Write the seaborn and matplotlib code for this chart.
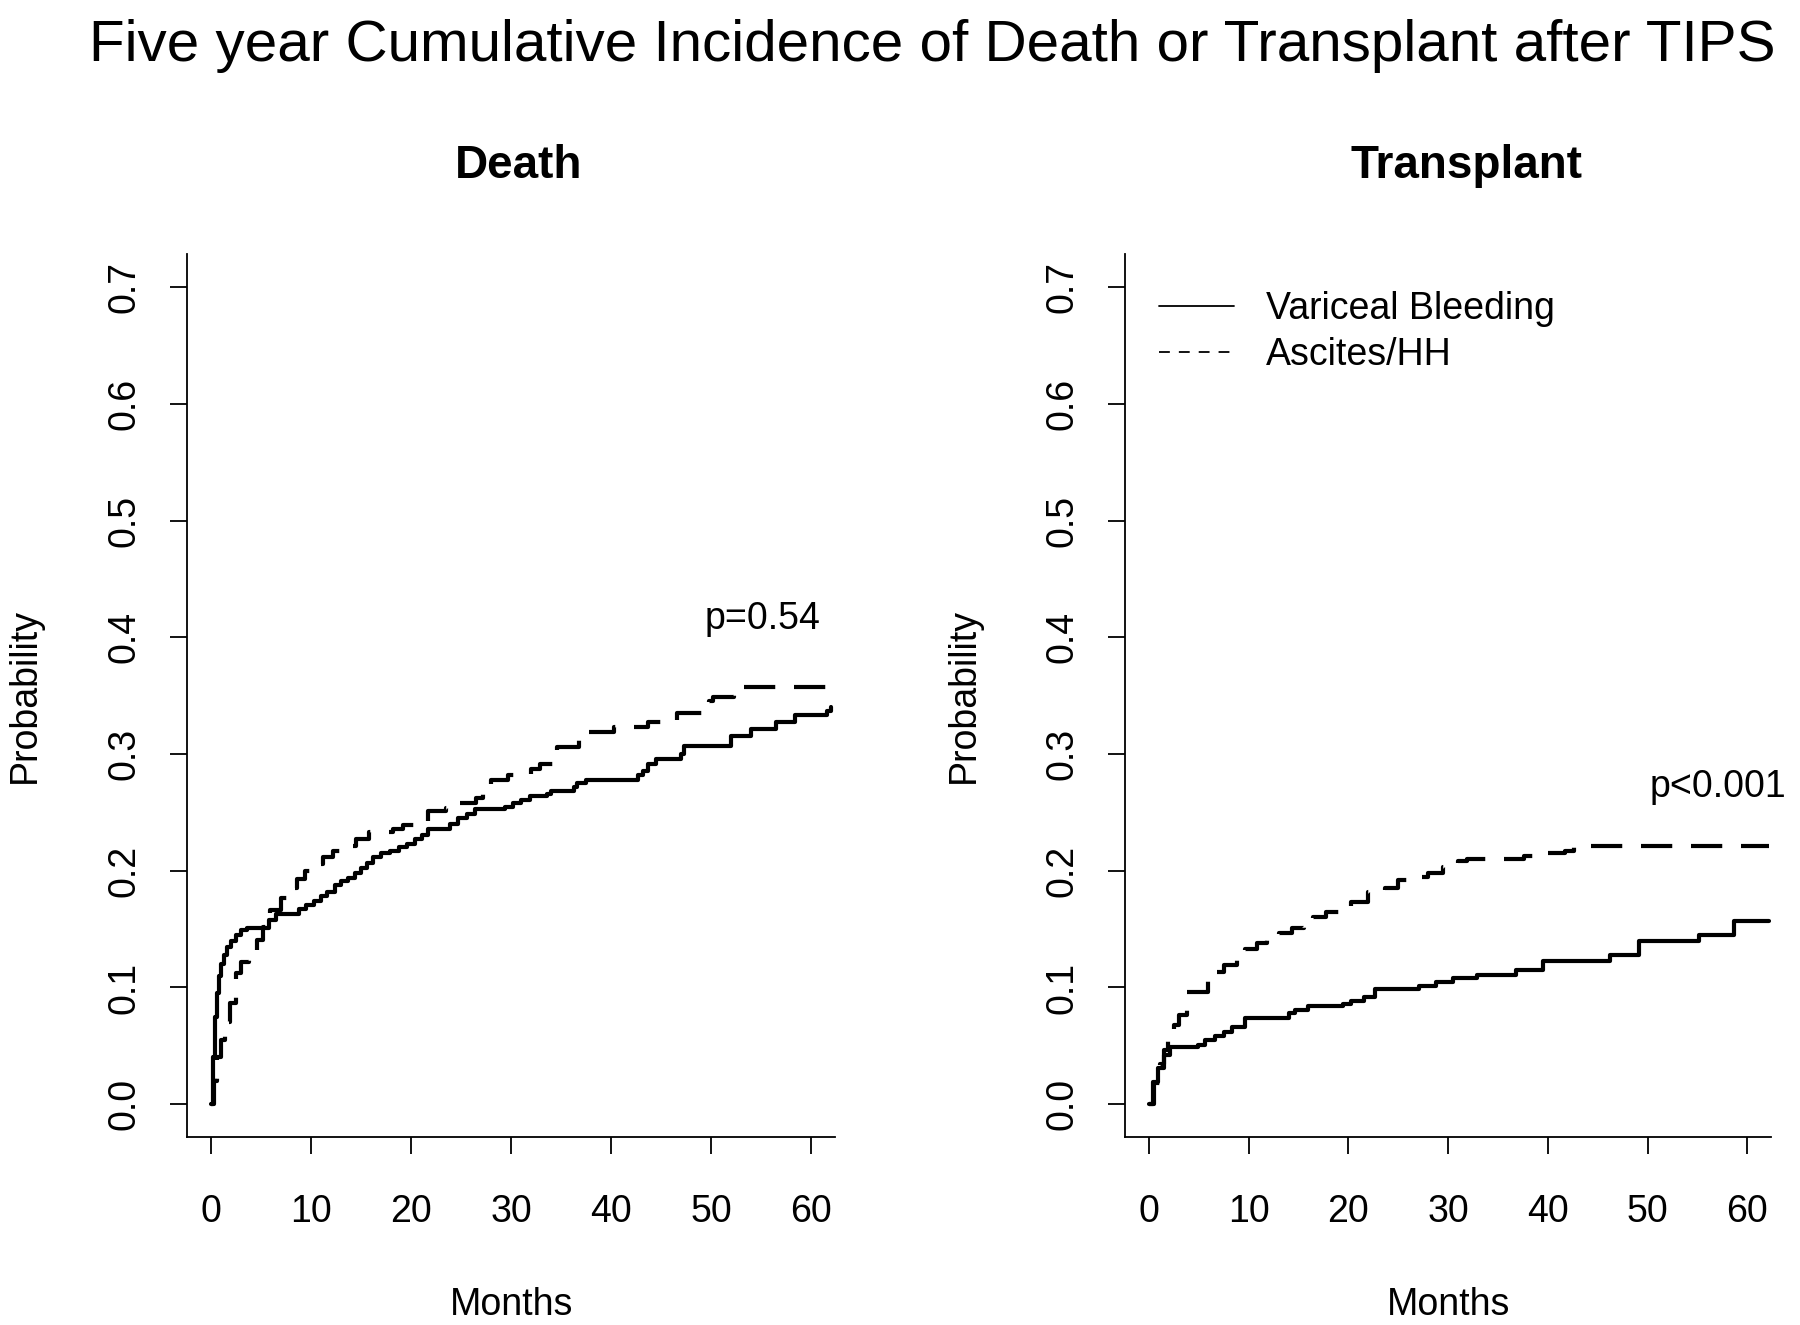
import matplotlib
matplotlib.use("Agg")
import matplotlib.pyplot as plt
from matplotlib.lines import Line2D
import seaborn as sns

# cumulative incidence (step functions)
death_vb_months = [0, 0.2, 0.4, 0.6, 0.8, 1.0, 1.3, 1.6, 2.0, 2.5, 3.0, 3.6, 5.8, 6.5, 8.8,
                   9.5, 10.3, 11.0, 11.6, 12.4, 13.0, 13.7, 14.4, 15.0, 15.6, 16.2, 17.0, 17.9,
                   18.8, 19.6, 20.4, 21.1, 21.7, 23.9, 24.7, 25.6, 26.4, 29.4, 30.2, 31.0, 31.9,
                   33.6, 34.0, 36.3, 36.6, 37.5, 42.7, 43.2, 43.7, 44.5, 47.0, 47.3, 52.0, 54.0,
                   56.5, 58.4, 61.6, 62.0]
death_vb_prob = [0, 0.04, 0.075, 0.095, 0.11, 0.12, 0.128, 0.135, 0.14, 0.145, 0.149, 0.151,
                 0.158, 0.163, 0.167, 0.171, 0.174, 0.178, 0.182, 0.188, 0.191, 0.194, 0.198,
                 0.202, 0.207, 0.212, 0.215, 0.217, 0.220, 0.223, 0.227, 0.231, 0.236, 0.240,
                 0.245, 0.249, 0.253, 0.255, 0.258, 0.261, 0.264, 0.266, 0.268, 0.272, 0.275,
                 0.278, 0.282, 0.285, 0.291, 0.296, 0.300, 0.307, 0.315, 0.321, 0.327, 0.333,
                 0.337, 0.340]

death_ah_months = [0, 0.3, 0.6, 1.0, 1.4, 1.9, 2.5, 3.0, 3.8, 4.6, 5.2, 5.9, 7.0, 7.8, 8.6,
                   9.4, 10.3, 11.2, 12.2, 13.3, 14.5, 15.8, 18.2, 19.2, 20.5, 21.7, 23.5, 24.7,
                   26.5, 27.2, 28.0, 29.7, 32.0, 32.9, 34.6, 36.8, 37.8, 40.3, 43.7, 46.6, 49.8,
                   50.2, 52.3, 62.0]
death_ah_prob = [0, 0.02, 0.04, 0.055, 0.07, 0.087, 0.112, 0.122, 0.131, 0.141, 0.152, 0.166,
                 0.177, 0.185, 0.193, 0.2, 0.206, 0.212, 0.217, 0.221, 0.227, 0.233, 0.236,
                 0.239, 0.242, 0.251, 0.254, 0.258, 0.262, 0.267, 0.278, 0.282, 0.287, 0.291,
                 0.306, 0.312, 0.319, 0.323, 0.327, 0.335, 0.345, 0.349, 0.357, 0.357]

tx_vb_months = [0, 0.4, 0.9, 1.5, 2.1, 4.9, 5.6, 6.6, 7.5, 8.3, 9.6, 14.0, 14.6, 16.0, 19.5,
                20.3, 21.6, 22.7, 27.1, 28.8, 30.5, 32.9, 36.8, 39.5, 46.2, 49.1, 55.2, 58.7, 62.2]
tx_vb_prob = [0, 0.019, 0.031, 0.042, 0.049, 0.051, 0.055, 0.058, 0.062, 0.066, 0.074, 0.078,
              0.081, 0.084, 0.086, 0.088, 0.092, 0.099, 0.101, 0.105, 0.108, 0.111, 0.115,
              0.123, 0.128, 0.140, 0.145, 0.157, 0.157]

tx_ah_months = [0, 0.5, 1.1, 1.5, 1.9, 2.5, 3.0, 3.8, 5.9, 6.6, 7.5, 8.8, 9.6, 10.8, 11.8,
                13.0, 14.3, 15.5, 16.5, 17.8, 19.5, 20.3, 22.0, 23.7, 25.0, 26.4, 28.0, 29.5,
                31.0, 31.9, 37.6, 40.0, 41.7, 42.6, 62.2]
tx_ah_prob = [0, 0.018, 0.034, 0.046, 0.059, 0.068, 0.076, 0.096, 0.106, 0.113, 0.119, 0.128,
              0.133, 0.138, 0.142, 0.147, 0.151, 0.156, 0.160, 0.165, 0.168, 0.173, 0.182,
              0.185, 0.192, 0.195, 0.198, 0.203, 0.208, 0.210, 0.213, 0.215, 0.217, 0.221, 0.221]

groups = ['Variceal Bleeding', 'Ascites/HH']
panels = ['Death', 'Transplant']
pvals = ['p=0.54', 'p<0.001']
pval_pos = [(55.1, 0.416), (57.1, 0.272)]
xticks = [0, 10, 20, 30, 40, 50, 60]
yticks = [0.0, 0.1, 0.2, 0.3, 0.4, 0.5, 0.6, 0.7]

sns.set_style("ticks")
plt.rcParams['font.family'] = ['Liberation Sans', 'DejaVu Sans']
plt.rcParams.update({'text.color': 'black', 'axes.labelcolor': 'black',
                     'xtick.color': 'black', 'ytick.color': 'black'})

FS = 27
DASH = (0, (7.5, 4.5))

fig = plt.figure(figsize=(18, 13.25), dpi=100)
ax1 = fig.add_axes([0.104, 0.142, 0.36, 0.666])
ax2 = fig.add_axes([0.625, 0.142, 0.359, 0.666])

series = [
    (ax1, death_vb_months, death_vb_prob, death_ah_months, death_ah_prob),
    (ax2, tx_vb_months, tx_vb_prob, tx_ah_months, tx_ah_prob),
]
title_x = [0.512, 0.528]

for i, (ax, m1, p1, m2, p2) in enumerate(series):
    sns.lineplot(x=m1, y=p1, ax=ax, color='black', lw=3, drawstyle='steps-post',
                 estimator=None, sort=False)
    sns.lineplot(x=m2, y=p2, ax=ax, color='black', lw=3, drawstyle='steps-post',
                 estimator=None, sort=False, linestyle=DASH)
    ax.set_xlim(-2.4, 62.4)
    ax.set_ylim(-0.028, 0.728)
    ax.set_xticks(xticks)
    ax.set_yticks(yticks)
    ax.set_yticklabels(['%.1f' % v for v in yticks], rotation=90, va='center')
    ax.tick_params(axis='both', labelsize=FS, length=12, width=1.3, color='black')
    ax.tick_params(axis='x', pad=29)
    ax.tick_params(axis='y', pad=20)
    for s in ['left', 'bottom']:
        ax.spines[s].set_linewidth(1.3)
        ax.spines[s].set_color('black')
    sns.despine(ax=ax)
    ax.set_xlabel('Months', fontsize=FS, va='center')
    ax.xaxis.set_label_coords(0.5, -0.19)
    ax.set_ylabel('Probability', fontsize=FS, va='center')
    ax.yaxis.set_label_coords(-0.25, 0.5)
    ax.set_title(panels[i], fontsize=33, fontweight='bold', x=title_x[i], y=1.1,
                 va='center', pad=0)
    ax.text(pval_pos[i][0], pval_pos[i][1], pvals[i], fontsize=FS, ha='center', va='center',
            clip_on=False)

handles = [Line2D([], [], color='black', lw=1.3),
           Line2D([], [], color='black', lw=1.3, linestyle=(0, (6, 5)))]
ax2.legend(handles, groups, loc='upper left', bbox_to_anchor=(0.053, 0.958), frameon=False,
           fontsize=FS, handlelength=2.0, handletextpad=0.85, borderpad=0, borderaxespad=0,
           labelspacing=0.25)

fig.suptitle('Five year Cumulative Incidence of Death or Transplant after TIPS',
             fontsize=42, x=0.518, y=0.965, va='center')

fig.savefig('out.png', dpi=100, facecolor='white')
